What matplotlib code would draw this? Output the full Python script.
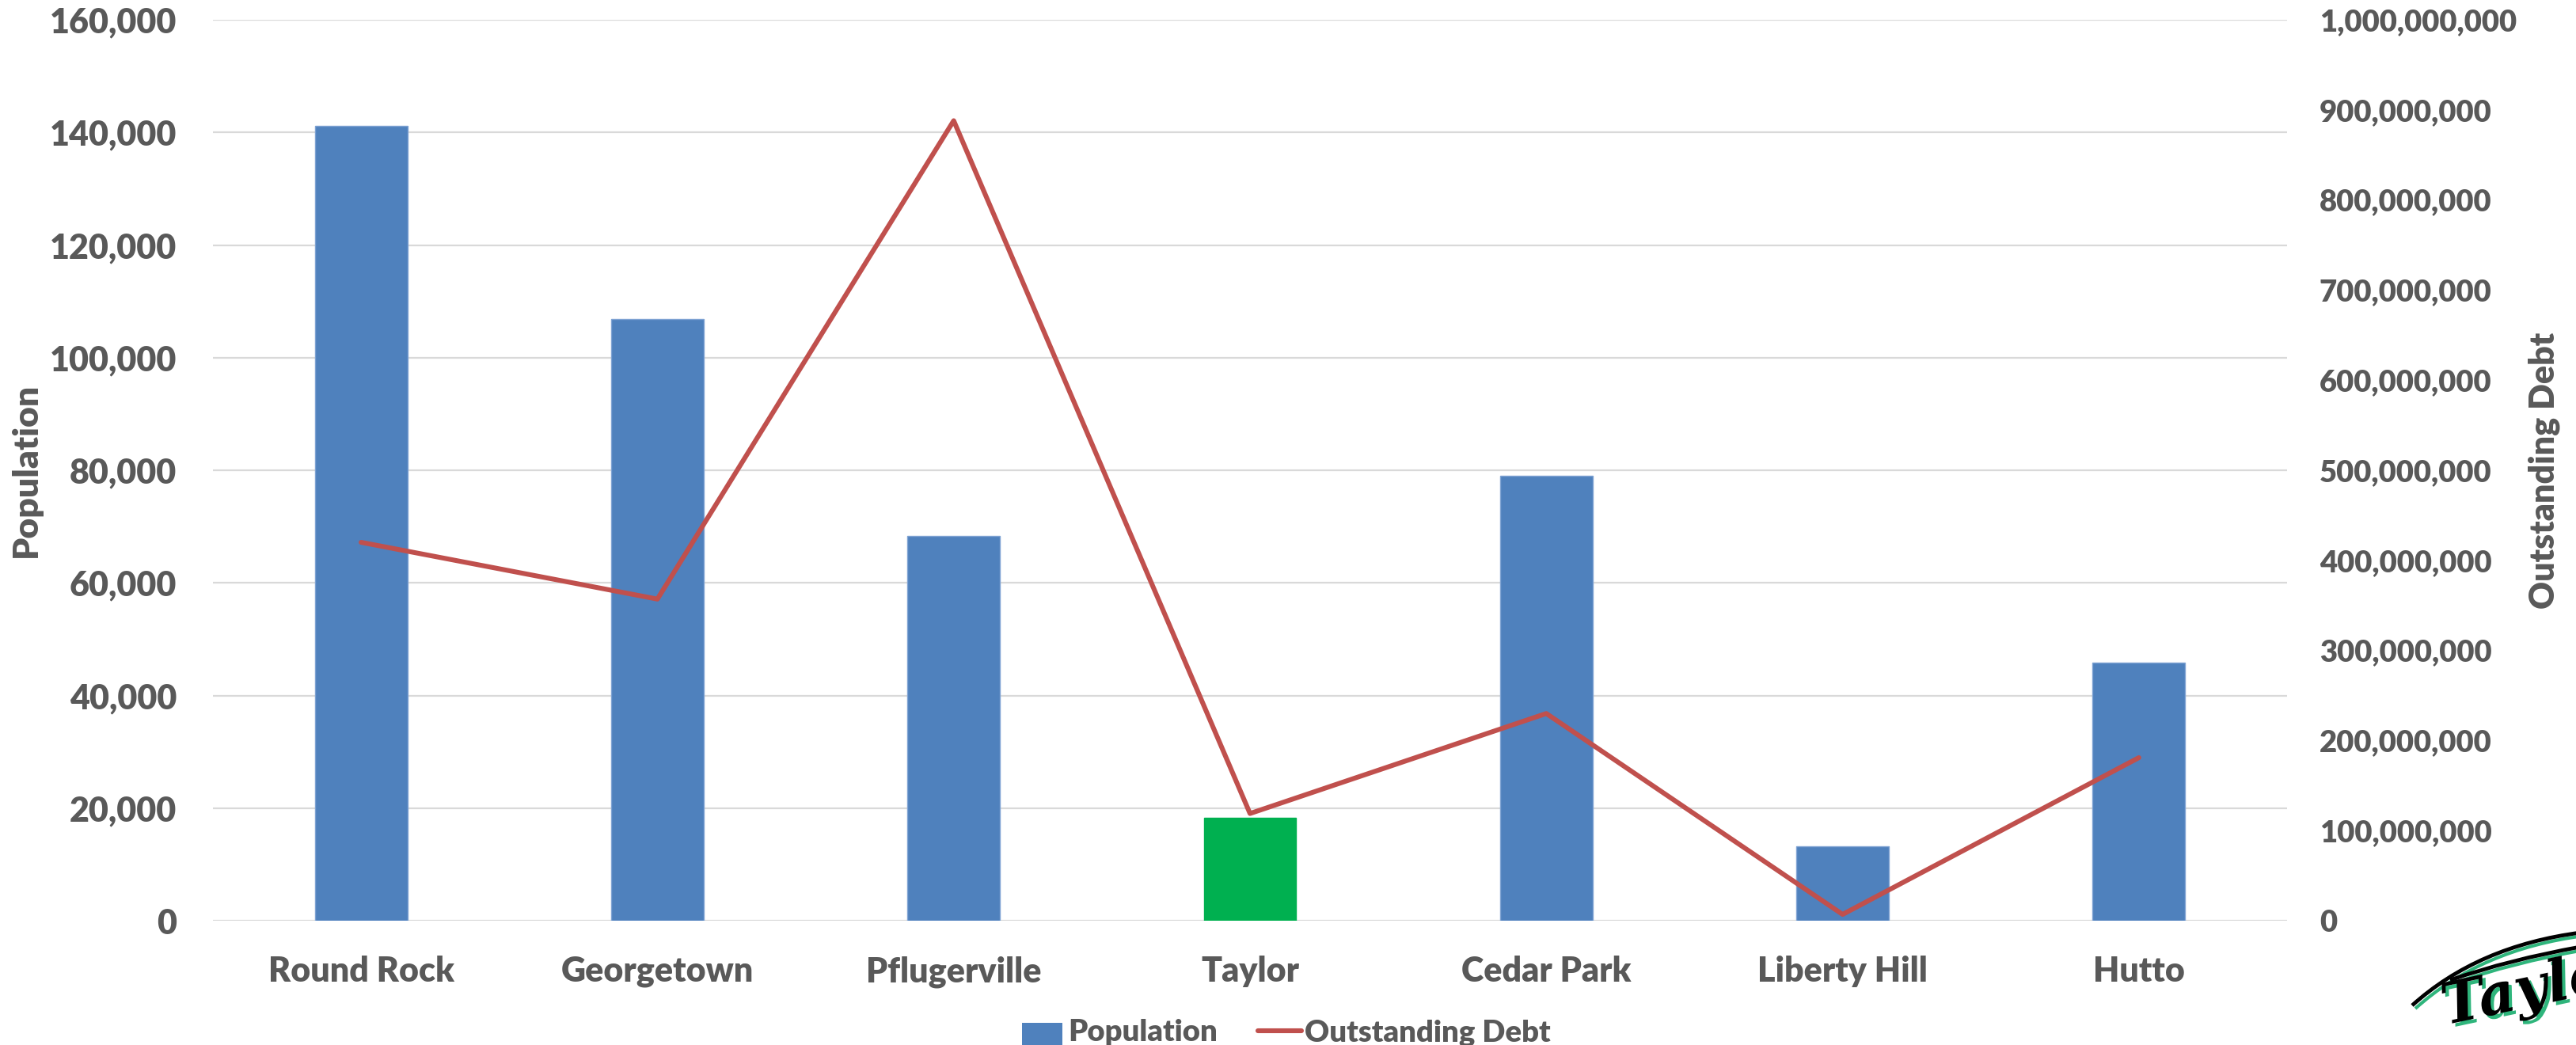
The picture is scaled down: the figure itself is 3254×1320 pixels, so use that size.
import matplotlib
matplotlib.use("Agg")
import matplotlib.pyplot as plt
import matplotlib.patheffects as pe
from matplotlib.ticker import FuncFormatter
from matplotlib.patches import Rectangle, PathPatch
from matplotlib.path import Path
from matplotlib.lines import Line2D
import numpy as np

# ---- data ----
cities = ["Round Rock", "Georgetown", "Pflugerville", "Taylor",
          "Cedar Park", "Liberty Hill", "Hutto"]
population = [141200, 106900, 68400, 18300, 79000, 13200, 45900]
outstanding_debt = [420e6, 357e6, 888e6, 119e6, 230e6, 7e6, 181e6]
highlight_city = "Taylor"

pop_ticks = list(range(0, 160001, 20000))
debt_ticks = [i * 100_000_000 for i in range(11)]

# ---- style ----
BLUE = "#4F81BD"
BLUE_EDGE = "#7FA3D3"
GREEN = "#00B050"
RED = "#C0504D"
TEXT = "#595959"
GRID = "#D9D9D9"
LOGO_GREEN = "#2FB57C"
WEIGHT = "heavy"

plt.rcParams["font.family"] = ["Lato", "DejaVu Sans"]
plt.rcParams["font.weight"] = WEIGHT

W, H = 3254, 1320
fig = plt.figure(figsize=(W / 100, H / 100), dpi=100)
fig.patch.set_facecolor("white")

left, right, top, bottom = 269, 2889, 25, 1163
ax = fig.add_axes([left / W, 1 - bottom / H, (right - left) / W, (bottom - top) / H])

x = np.arange(len(cities))
bar_colors = [GREEN if c == highlight_city else BLUE for c in cities]
edge_colors = [GREEN if c == highlight_city else BLUE_EDGE for c in cities]
ax.bar(x, population, width=0.3125, color=bar_colors, edgecolor=edge_colors,
       linewidth=1.0, zorder=2)

ax.set_xlim(-0.5, len(cities) - 0.5)
ax.set_ylim(pop_ticks[0], pop_ticks[-1])
ax.set_yticks(pop_ticks)
ax.yaxis.set_major_formatter(FuncFormatter(lambda v, p: f"{v:,.0f}"))
ax.set_xticks(x)
ax.set_xticklabels(cities)
ax.grid(axis="y", color=GRID, linewidth=1.6, zorder=0)
ax.set_axisbelow(True)
for s in ax.spines.values():
    s.set_visible(False)
ax.tick_params(axis="y", length=0, pad=33, labelsize=31, labelcolor=TEXT)
ax.tick_params(axis="x", length=0, pad=32, labelsize=31, labelcolor=TEXT)
for lbl in ax.get_xticklabels() + ax.get_yticklabels():
    lbl.set_fontweight(WEIGHT)

ax.set_ylabel("Population", fontsize=32, color=TEXT, fontweight=WEIGHT)
ax.yaxis.set_label_coords((33 - left) / (right - left), 0.5)
ax.yaxis.label.set_va("center")

# secondary axis: outstanding debt line
ax2 = ax.twinx()
ax2.plot(x, outstanding_debt, color=RED, linewidth=4.4,
         solid_joinstyle="round", solid_capstyle="round", zorder=3)
ax2.set_ylim(debt_ticks[0], debt_ticks[-1])
ax2.set_yticks(debt_ticks)
ax2.yaxis.set_major_formatter(FuncFormatter(lambda v, p: f"{v:,.0f}"))
for s in ax2.spines.values():
    s.set_visible(False)
ax2.tick_params(axis="y", length=0, pad=29.5, labelsize=27.5, labelcolor=TEXT)
for lbl in ax2.get_yticklabels():
    lbl.set_fontweight(WEIGHT)
ax2.set_ylabel("Outstanding Debt", fontsize=31, color=TEXT, fontweight=WEIGHT)
ax2.yaxis.set_label_coords((3214 - left) / (right - left), 0.5)
ax2.yaxis.label.set_va("center")

# ---- legend along the bottom edge ----
fig.add_artist(Rectangle((1291 / W, 1 - 1343 / H), 51 / W, 51 / H,
                         transform=fig.transFigure, facecolor=BLUE,
                         edgecolor="none", clip_on=False))
fig.text(1349 / W, 1 - 1315 / H, "Population", fontsize=27.5, color=TEXT,
         fontweight=WEIGHT, ha="left", va="baseline")
fig.add_artist(Line2D([1589 / W, 1644 / W], [1 - 1302 / H, 1 - 1302 / H],
                      transform=fig.transFigure, color=RED, linewidth=4.4,
                      solid_capstyle="round"))
fig.text(1648 / W, 1 - 1315 / H, "Outstanding Debt", fontsize=27.5, color=TEXT,
         fontweight=WEIGHT, ha="left", va="baseline")

# ---- corner logo ----
def swoosh(p0, c, p1, dx=0, dy=0):
    pts = [((px + dx) / W, 1 - (py + dy) / H) for px, py in (p0, c, p1)]
    return Path(pts, [Path.MOVETO, Path.CURVE3, Path.CURVE3])

for dx, dy, col, lw in ((4, 4, LOGO_GREEN, 3.0), (0, 0, "black", 3.5)):
    fig.add_artist(PathPatch(swoosh((3047, 1270), (3130, 1195), (3260, 1178), dx, dy),
                             transform=fig.transFigure, facecolor="none",
                             edgecolor=col, linewidth=lw))
    fig.add_artist(PathPatch(swoosh((3095, 1238), (3170, 1212), (3260, 1196), dx, dy),
                             transform=fig.transFigure, facecolor="none",
                             edgecolor=col, linewidth=lw))

shadow = [pe.withSimplePatchShadow(offset=(3, -3), shadow_rgbFace=LOGO_GREEN, alpha=1.0)]
fig.text(3078 / W, 1 - 1294 / H, "Taylor", fontsize=52, family="DejaVu Serif",
         style="italic", fontweight="bold", color="black", rotation=12,
         ha="left", va="baseline", path_effects=shadow)

fig.savefig("out.png", dpi=100, facecolor="white")
